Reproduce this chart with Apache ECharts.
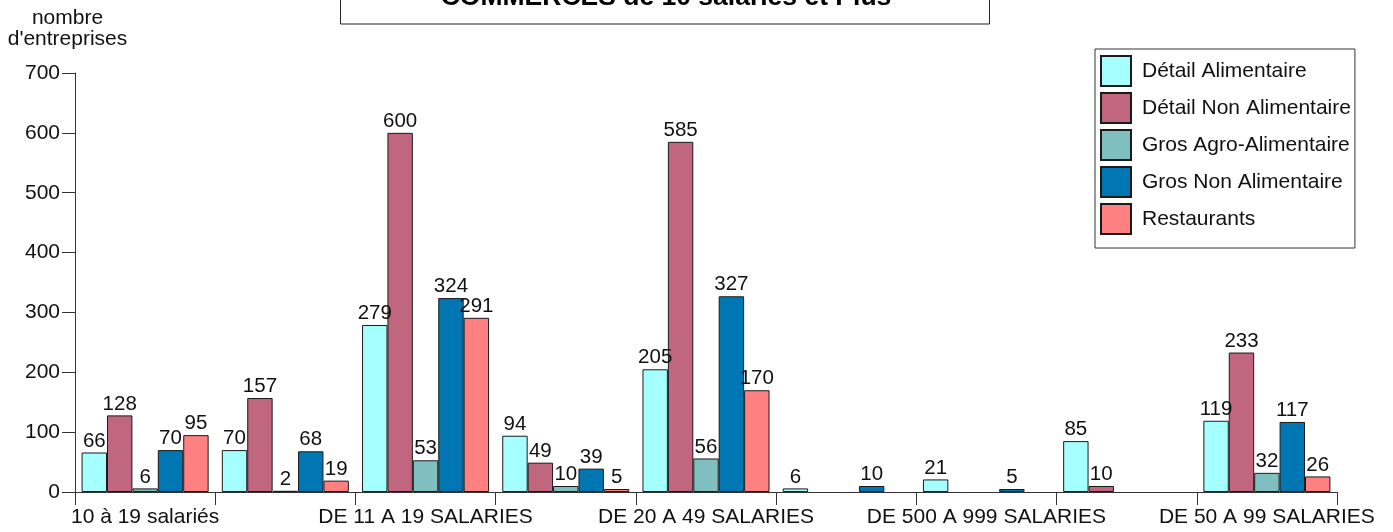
<!DOCTYPE html>
<html>
<head>
<meta charset="utf-8">
<script src="https://cdn.jsdelivr.net/npm/echarts@6/dist/echarts.min.js"></script>
<style>html,body{margin:0;padding:0;background:#fff;}#c{width:1393px;height:532px;}</style>
</head>
<body>
<div id="c"></div>
<script>
const titleText = "COMMERCES de 10 salariés et Plus";
const yName = "nombre\nd'entreprises";
const categories = ["10 à 19 salariés", "DE 100 A 199 SALARIES", "DE 11 A 19 SALARIES", "DE 200 A 249 SALARIES", "DE 20 A 49 SALARIES", "DE 1000 A 1999 SALARIES", "DE 500 A 999 SALARIES", "DE 250 A 499 SALARIES", "DE 50 A 99 SALARIES"];
const seriesNames = ["Détail Alimentaire", "Détail Non Alimentaire", "Gros Agro-Alimentaire", "Gros Non Alimentaire", "Restaurants"];
const detailAlimentaire = [66, 70, 279, 94, 205, 6, 21, 85, 119];
const detailNonAlimentaire = [128, 157, 600, 49, 585, null, null, 10, 233];
const grosAgroAlimentaire = [6, 2, 53, 10, 56, null, null, null, 32];
const grosNonAlimentaire = [70, 68, 324, 39, 327, 10, 5, null, 117];
const restaurants = [95, 19, 291, 5, 170, null, null, null, 26];
const yTicks = [0, 100, 200, 300, 400, 500, 600, 700];

const colors = ["#A6FFFF", "#C0667E", "#80BFBF", "#0077B3", "#FF8080"];
const values = [detailAlimentaire, detailNonAlimentaire, grosAgroAlimentaire, grosNonAlimentaire, restaurants];
const FONT = "Arial, 'Liberation Sans', sans-serif";

const chart = echarts.init(document.getElementById('c'), null, {renderer: 'canvas'});
chart.setOption({
  animation: false,
  backgroundColor: '#fff',
  textStyle: {fontFamily: FONT},
  grid: {left: 75, right: 56, top: 73, bottom: 40, containLabel: false},
  graphic: [
    {type: 'rect', shape: {x: 340.5, y: -6, width: 649, height: 30}, style: {fill: '#fff', stroke: '#222', lineWidth: 1}, z: 10},
    {type: 'text', x: 666, y: -2, style: {text: titleText, fontFamily: FONT, fontWeight: 'bold', fontSize: 26.5, fill: '#000', align: 'center', verticalAlign: 'middle'}, z: 11}
  ],
  legend: {
    orient: 'vertical',
    left: 1095, top: 49,
    padding: [6, 4, 13, 5],
    itemWidth: 30, itemHeight: 30, itemGap: 5,
    borderColor: '#333', borderWidth: 1,
    backgroundColor: '#fff',
    icon: 'rect',
    textStyle: {fontSize: 21, color: '#111', fontFamily: FONT, padding: [0, 0, 0, 6]},
    data: seriesNames
  },
  xAxis: {
    type: 'category',
    data: categories,
    boundaryGap: true,
    axisLine: {lineStyle: {color: '#333', width: 1}},
    axisTick: {show: true, interval: 0, length: 13, lineStyle: {color: '#333'}},
    axisLabel: {interval: 1, margin: 15, fontSize: 21, color: '#111', fontFamily: FONT},
    splitLine: {show: false}
  },
  yAxis: {
    type: 'value',
    min: 0, max: 700, interval: 100,
    name: yName,
    nameLocation: 'end',
    nameGap: 23,
    nameTextStyle: {fontSize: 21, color: '#111', lineHeight: 21, align: 'center', padding: [0, 15, 0, 0], fontFamily: FONT},
    axisLine: {show: true, lineStyle: {color: '#333', width: 1}},
    axisTick: {show: true, length: 13, lineStyle: {color: '#333'}},
    axisLabel: {margin: 15, fontSize: 21, color: '#111', fontFamily: FONT,
      formatter: v => yTicks.includes(v) ? String(v) : ''},
    splitLine: {show: false}
  },
  series: seriesNames.map((n, i) => ({
    name: n,
    type: 'bar',
    data: values[i],
    barGap: '0%',
    barCategoryGap: '9.4%',
    itemStyle: {color: colors[i], borderColor: '#1a1a1a', borderWidth: 1},
    label: {show: true, position: 'top', distance: 1, fontSize: 20.5, color: '#111', fontFamily: FONT},
    emphasis: {disabled: true}
  }))
});
</script>
</body>
</html>
